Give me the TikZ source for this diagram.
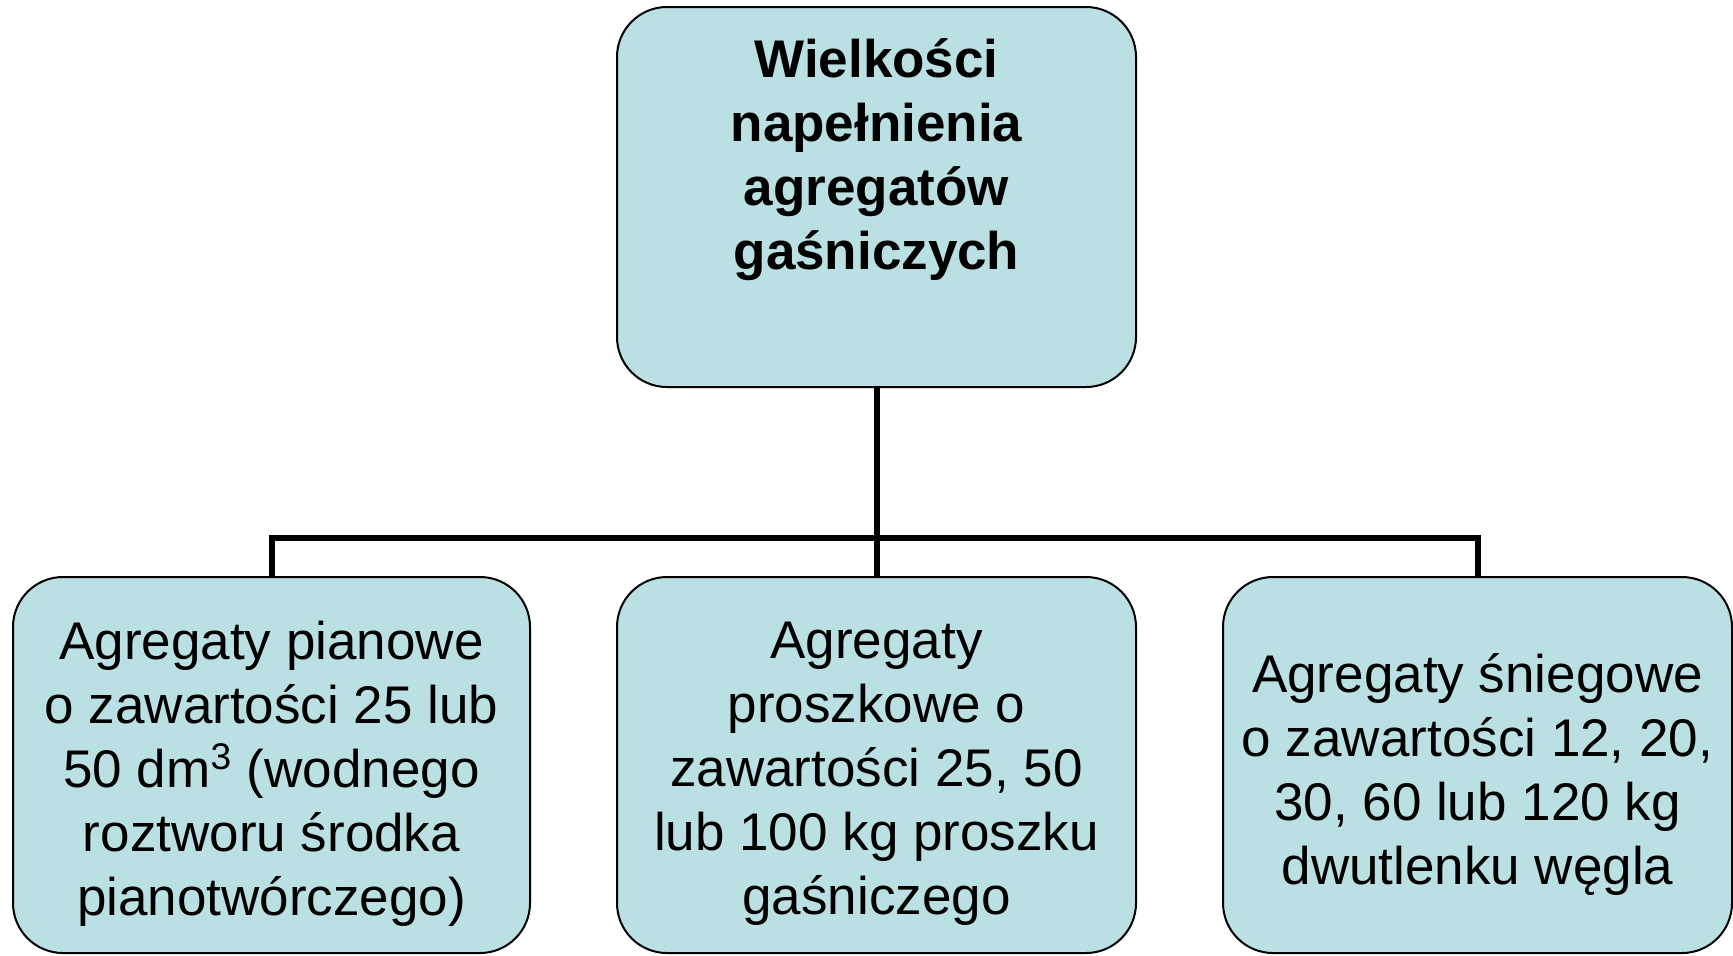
\documentclass[tikz,border=0pt]{standalone}
\usepackage{fontspec}
\setmainfont{Liberation Sans}
\definecolor{boxfill}{HTML}{BBE0E3}
\tikzset{
  orgbox/.style={draw=black, line width=1pt, fill=boxfill, rounded corners=25pt,
    inner sep=0pt, outer sep=0pt},
  orgtext/.style={align=center, inner sep=0pt, font=\fontsize{26.5}{32}\selectfont},
  link/.style={line width=3pt, draw=black}
}
\begin{document}
\begin{tikzpicture}[x=0.5pt,y=-0.5pt]
\useasboundingbox (0,0) rectangle (1733,955);
\node[orgbox, minimum width=259.5pt, minimum height=190pt] (top) at (876.5,197) {};
\node[orgbox, minimum width=258.5pt, minimum height=188pt] (left) at (271.5,765) {};
\node[orgbox, minimum width=259.5pt, minimum height=188pt] (mid) at (876.5,765) {};
\node[orgbox, minimum width=254.5pt, minimum height=188pt] (right) at (1477.5,765) {};
\node[orgtext, font=\fontsize{26.5}{32}\selectfont\bfseries] (toptext) at (876.5,160)
  {Wielkości\\napełnienia\\agregatów\\gaśniczych};
\node[orgtext] (lefttext) at (271.5,774)
  {Agregaty pianowe\\o zawartości 25 lub\\50 dm\textsuperscript{3} (wodnego\\roztworu środka\\pianotwórczego)};
\node[orgtext] (midtext) at (876.5,774)
  {Agregaty\\proszkowe o\\zawartości 25, 50\\lub 100 kg proszku\\gaśniczego};
\node[orgtext] (righttext) at (1477.5,774)
  {Agregaty śniegowe\\o zawartości 12, 20,\\30, 60 lub 120 kg\\dwutlenku węgla};
\coordinate (j) at (876.5,538);
\draw[link] (top.south) -- (j);
\draw[link] (j) -- (mid.north);
\draw[link] (left.north) |- (j) -| (right.north);
\end{tikzpicture}
\end{document}
